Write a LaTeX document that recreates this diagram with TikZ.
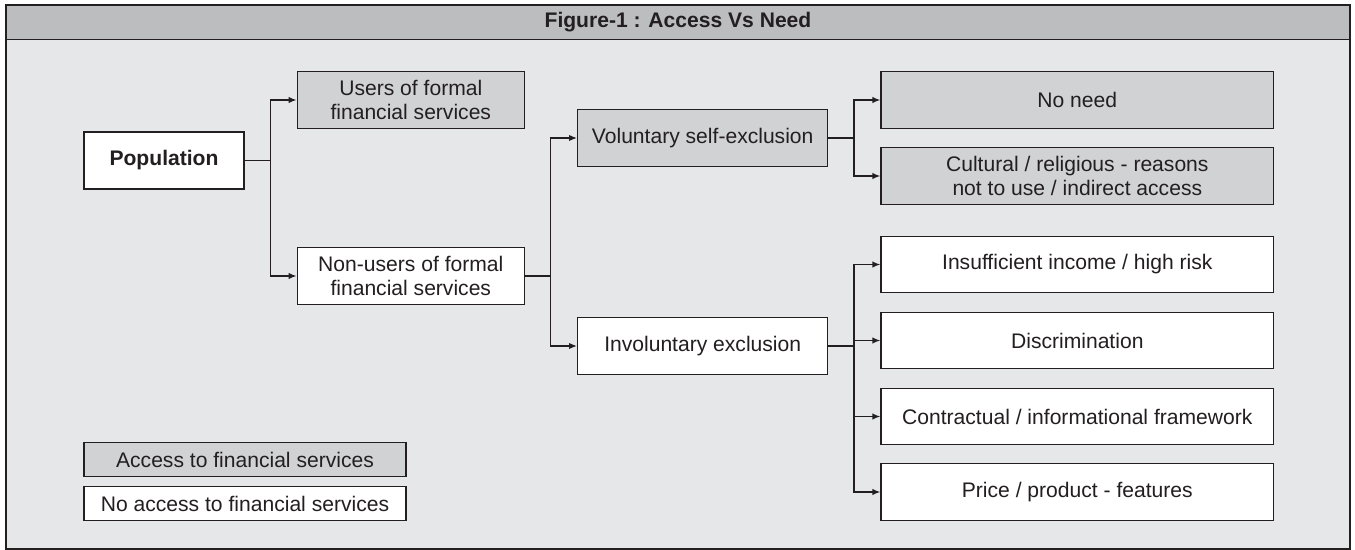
\documentclass[tikz,border=0pt]{standalone}
\usepackage{fontspec}
\setmainfont{Liberation Sans}
\usetikzlibrary{arrows.meta}

\definecolor{panelbg}{HTML}{E6E7E8}
\definecolor{titlebg}{HTML}{BCBDBF}
\definecolor{accessfill}{HTML}{D1D2D4}
\definecolor{inkdark}{HTML}{231F20}

\tikzset{
  box/.style={draw=inkdark, line width=0.8pt, text=inkdark, align=center,
    minimum height=1.13cm, inner sep=2pt,
    font=\fontsize{12}{14}\selectfont},
  access/.style={box, fill=accessfill},
  noaccess/.style={box, fill=white},
  legendbox/.style={box, minimum width=6.44cm, minimum height=0.68cm},
  link/.style={draw=inkdark, line width=0.8pt},
  arrowlink/.style={link, -{Latex[length=4.5pt,width=3.6pt]}}
}

\begin{document}
\begin{tikzpicture}[x=0.02cm, y=-0.02cm]
  \useasboundingbox (0,0) rectangle (1355,550);
  % frame and title bar
  \fill[panelbg] (6,5) rectangle (1350,549);
  \filldraw[fill=titlebg, draw=inkdark, line width=0.9pt] (6,5) rectangle (1350,39.5);
  \draw[inkdark, line width=1.1pt] (6,5) rectangle (1350,549);
  \node[text=inkdark, font=\fontsize{12}{14}\selectfont\bfseries] (title) at (678,22)
    {Figure-1 : Access Vs Need};

  % first level
  \node[noaccess, minimum width=3.2cm, minimum height=1.14cm, font=\fontsize{12}{14}\selectfont\bfseries]
    (population) at (164,160.5) {Population};
  \node[access, minimum width=4.54cm] (users) at (410.8,100) {Users of formal\\financial services};
  \node[noaccess, minimum width=4.54cm] (nonusers) at (410.8,276) {Non-users of formal\\financial services};

  % second level
  \node[access, minimum width=5cm] (voluntary) at (702.7,138) {Voluntary self-exclusion};
  \node[noaccess, minimum width=5cm] (involuntary) at (702.7,346) {Involuntary exclusion};

  % third level
  \node[access, minimum width=7.85cm] (noneed) at (1077.3,100) {No need};
  \node[access, minimum width=7.85cm] (cultural) at (1077.3,176)
    {Cultural / religious - reasons\\not to use / indirect access};
  \node[noaccess, minimum width=7.85cm] (income) at (1077.3,264.5) {Insufficient income / high risk};
  \node[noaccess, minimum width=7.85cm] (discrimination) at (1077.3,340.5) {Discrimination};
  \node[noaccess, minimum width=7.85cm] (framework) at (1077.3,416.5) {Contractual / informational framework};
  \node[noaccess, minimum width=7.85cm] (price) at (1077.3,492) {Price / product - features};

  % legend
  \node[access, legendbox] (legaccess) at (245,459.7) {Access to financial services};
  \node[noaccess, legendbox] (legnoaccess) at (245,503.7) {No access to financial services};

  % connectors
  \coordinate (popfork) at (270.7,160.5);
  \draw[link] (population.east) -- (popfork);
  \draw[arrowlink] (popfork) |- (users.west);
  \draw[arrowlink] (popfork) |- (nonusers.west);

  \coordinate (nonfork) at (550.7,276);
  \draw[link] (nonusers.east) -- (nonfork);
  \draw[arrowlink] (nonfork) |- (voluntary.west);
  \draw[arrowlink] (nonfork) |- (involuntary.west);

  \coordinate (volfork) at (854,138);
  \draw[link] (voluntary.east) -- (volfork);
  \draw[arrowlink] (volfork) |- (noneed.west);
  \draw[arrowlink] (volfork) |- (cultural.west);

  \coordinate (invfork) at (854,346);
  \draw[link] (involuntary.east) -- (invfork);
  \foreach \target in {income, discrimination, framework, price}
    \draw[arrowlink] (invfork) |- (\target.west);
\end{tikzpicture}
\end{document}
